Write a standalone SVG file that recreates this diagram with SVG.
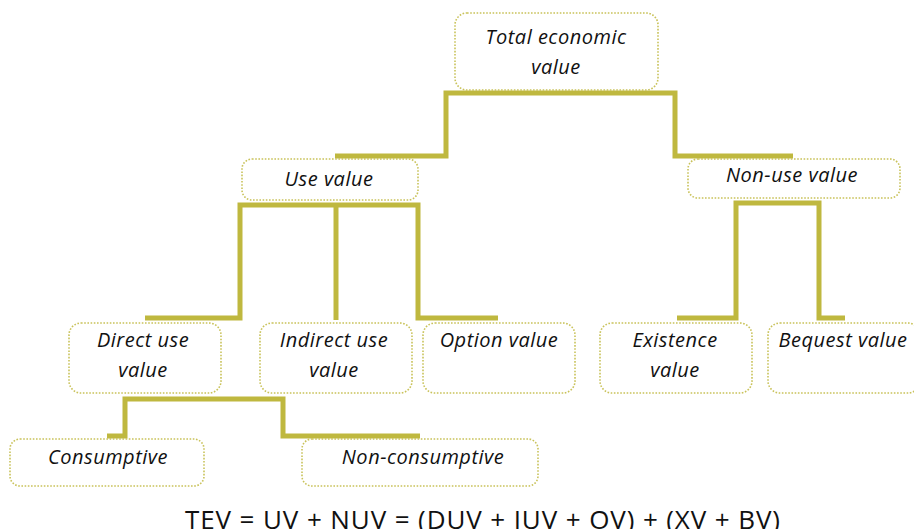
<svg xmlns="http://www.w3.org/2000/svg" width="914" height="529" viewBox="0 0 914 529">
<style>
.box{fill:#fff;stroke:#C9C25A;stroke-width:1.6;stroke-dasharray:1.6 1.6}
.lbl{font-family:"Open Sans","Noto Sans","Liberation Sans",sans-serif;font-style:italic;font-size:20px;letter-spacing:0.5px;fill:#111;text-anchor:middle}
.con{fill:none;stroke:#BFB83F;stroke-width:5;stroke-linejoin:miter;stroke-linecap:butt}
.eq{font-family:"Open Sans","Noto Sans","Liberation Sans",sans-serif;font-size:26px;fill:#111;text-anchor:middle}
</style>
<rect width="914" height="529" fill="#fff"/>
<g id="connectors">
<path class="con" d="M335,156 H446 V93 H675 V156 H793"/>
<path class="con" d="M145,318 H240 V205 H418 V318 H498"/>
<path class="con" d="M336,205 V320"/>
<path class="con" d="M677,318 H736 V203 H819 V318 H845"/>
<path class="con" d="M107,436 H125 V399 H283 V436 H420"/>
</g>
<g id="tev"><rect class="box" x="455" y="13" width="203" height="77" rx="12"/><text class="lbl" x="556" y="44">Total economic</text><text class="lbl" x="556" y="74">value</text></g>
<g id="use"><rect class="box" x="242" y="159" width="176" height="41" rx="10"/><text class="lbl" x="329" y="186">Use value</text></g>
<g id="nonuse"><rect class="box" x="688" y="159" width="212" height="39" rx="10"/><text class="lbl" x="792" y="182">Non-use value</text></g>
<g id="direct"><rect class="box" x="69" y="323" width="152" height="70" rx="12"/><text class="lbl" x="143" y="347">Direct use</text><text class="lbl" x="143" y="377">value</text></g>
<g id="indirect"><rect class="box" x="260" y="323" width="152" height="70" rx="12"/><text class="lbl" x="334" y="347">Indirect use</text><text class="lbl" x="334" y="377">value</text></g>
<g id="option"><rect class="box" x="423" y="323" width="152" height="70" rx="12"/><text class="lbl" x="499" y="347">Option value</text></g>
<g id="existence"><rect class="box" x="600" y="323" width="152" height="70" rx="12"/><text class="lbl" x="675" y="347">Existence</text><text class="lbl" x="675" y="377">value</text></g>
<g id="bequest"><rect class="box" x="768" y="323" width="152" height="70" rx="12"/><text class="lbl" x="843" y="347">Bequest value</text></g>
<g id="consumptive"><rect class="box" x="10" y="439" width="194" height="47" rx="10"/><text class="lbl" x="108" y="464">Consumptive</text></g>
<g id="nonconsumptive"><rect class="box" x="302" y="439" width="236" height="47" rx="10"/><text class="lbl" x="423" y="464">Non-consumptive</text></g>
<text class="eq" x="482.5" y="529" textLength="595" lengthAdjust="spacing">TEV = UV + NUV = (DUV + IUV + OV) + (XV + BV)</text>
</svg>
